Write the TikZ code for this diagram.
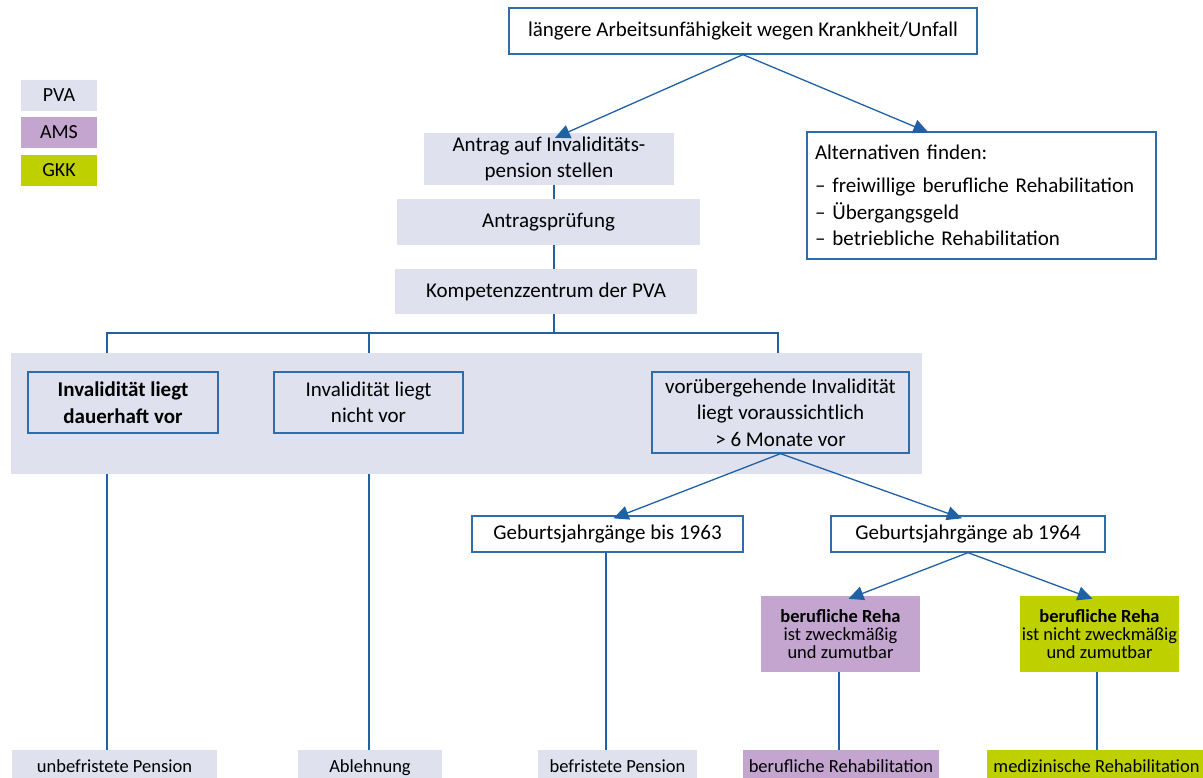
\documentclass[tikz,border=0pt]{standalone}
\usepackage{fontspec}
\setmainfont{Carlito}
\usetikzlibrary{arrows.meta}
\pgfdeclarelayer{bg}
\pgfsetlayers{bg,main}
\definecolor{pvac}{RGB}{223,225,239}
\definecolor{amsc}{RGB}{195,165,208}
\definecolor{gkkc}{RGB}{190,208,0}
\definecolor{linec}{RGB}{32,96,164}
\definecolor{bordc}{RGB}{46,108,172}
\newcommand{\fsz}[2]{\fontsize{#1}{#2}\selectfont}
\begin{document}
\begin{tikzpicture}[x=1pt,y=-1pt,
  base/.style={inner sep=0pt, align=center, text=black},
  pvabox/.style={base, fill=pvac},
  amsbox/.style={base, fill=amsc},
  gkkbox/.style={base, fill=gkkc},
  wbox/.style={base, draw=bordc, line width=1.3pt, fill=white},
  obox/.style={base, draw=bordc, line width=1.3pt},
  conn/.style={draw=linec, line width=1.3pt},
  arr/.style={conn, -{Triangle[length=15pt,width=14pt]}},
  big/.style={font=\fsz{21}{26.5}},
  mid/.style={font=\fsz{20}{24}},
  small/.style={font=\fsz{18.5}{18}},
  outbox/.style={small, text height=13pt, text depth=4pt, minimum height=36},
]
\clip (0,0) rectangle (1203,778);
\begin{pgfonlayer}{bg}
  \fill[white] (0,0) rectangle (1203,778);
\end{pgfonlayer}

% legend
\node[pvabox, mid, minimum width=76, minimum height=31] (lpva) at (59,95.5) {PVA};
\node[amsbox, mid, minimum width=76, minimum height=31] (lams) at (59,132.5) {AMS};
\node[gkkbox, mid, minimum width=76, minimum height=31] (lgkk) at (59,170.5) {GKK};

% top part
\node[wbox, big, minimum width=468, minimum height=46] (top) at (743,31) {längere Arbeitsunfähigkeit wegen Krankheit/Unfall};
\node[pvabox, big, minimum width=250, minimum height=52] (antrag) at (549,159) {Antrag auf Invaliditäts-\\pension stellen};
\node[wbox, big, text width=333, inner xsep=8pt, align=left, minimum height=127] (alt) at (981.5,195.5)
  {Alternativen finden:\\[7pt]– freiwillige berufliche Rehabilitation\\– Übergangsgeld\\– betriebliche Rehabilitation};
\node[pvabox, big, minimum width=303, minimum height=46] (pruef) at (548.5,222) {Antragsprüfung};
\node[pvabox, big, minimum width=302, minimum height=45] (komp) at (546,291.5) {Kompetenzzentrum der PVA};

% middle band
\node[obox, big, minimum width=190, minimum height=61] (dauer) at (123,402.5) {\textbf{Invalidität liegt}\\\textbf{dauerhaft vor}};
\node[obox, big, minimum width=189, minimum height=61] (nicht) at (368.5,402.5) {Invalidität liegt\\nicht vor};
\node[obox, big, minimum width=257, minimum height=81] (vorueb) at (780.5,412.5) {vorübergehende Invalidität\\liegt voraussichtlich\\> 6 Monate vor};

% birth years
\node[wbox, big, minimum width=271, minimum height=36] (b63) at (607.5,534) {Geburtsjahrgänge bis 1963};
\node[wbox, big, minimum width=274, minimum height=36] (ab64) at (968,534) {Geburtsjahrgänge ab 1964};

% reha decision
\node[amsbox, small, minimum width=159, minimum height=76] (ams) at (840.5,634) {\textbf{berufliche Reha}\\ist zweckmäßig\\und zumutbar};
\node[gkkbox, small, minimum width=159, minimum height=76] (gkk) at (1099.5,634) {\textbf{berufliche Reha}\\ist nicht zweckmäßig\\und zumutbar};

% outcomes
\node[pvabox, outbox, minimum width=205] (unbef) at (114.5,768) {unbefristete Pension};
\node[pvabox, outbox, minimum width=144] (abl) at (370,768) {Ablehnung};
\node[pvabox, outbox, minimum width=159] (befr) at (617.5,768) {befristete Pension};
\node[amsbox, outbox, minimum width=196] (amsr) at (841,768) {berufliche Rehabilitation};
\node[gkkbox, outbox, minimum width=219] (gkkr) at (1096.5,768) {medizinische Rehabilitation};

% branch coordinates
\coordinate (spine) at (554,333);
\coordinate (br1) at (107,333);
\coordinate (br2) at (369,333);
\coordinate (br3) at (778,333);
\coordinate (br4) at (606,552);

\begin{pgfonlayer}{bg}
  \draw[conn] (antrag.south -| spine) -- (pruef.north -| spine);
  \draw[conn] (pruef.south -| spine) -- (komp.north -| spine);
  \draw[conn] (komp.south -| spine) -- (spine);
  \draw[conn] (br1 |- dauer.north) -- (br1) -- (br3) -- (br3 |- vorueb.north);
  \draw[conn] (br2) -- (br2 |- nicht.north);
  \draw[conn] (br1 |- dauer.south) -- (br1 |- unbef.north);
  \draw[conn] (br2 |- nicht.south) -- (br2 |- abl.north);
  \fill[pvac] (11,353) rectangle (922,474);
\end{pgfonlayer}

\draw[conn] (br4 |- b63.south) -- (br4 |- befr.north);
\draw[conn] ([xshift=-1.5pt]ams.south) -- ([xshift=-1.5pt]ams.south |- amsr.north);
\draw[conn] ([xshift=-2.5pt]gkk.south) -- ([xshift=-2.5pt]gkk.south |- gkkr.north);

% arrows
\draw[arr] (top.south) -- ([xshift=6pt,yshift=-5pt]antrag.north);
\draw[arr] (top.south) -- ([xshift=122pt,yshift=-1pt]alt.north west);
\draw[arr] (vorueb.south) -- ([xshift=6pt,yshift=-3pt]b63.north);
\draw[arr] (vorueb.south) -- ([xshift=-6pt,yshift=-3pt]ab64.north);
\draw[arr] (ab64.south) -- ([xshift=8pt,yshift=-3pt]ams.north);
\draw[arr] (ab64.south) -- ([xshift=-7pt,yshift=-3pt]gkk.north);
\end{tikzpicture}
\end{document}
